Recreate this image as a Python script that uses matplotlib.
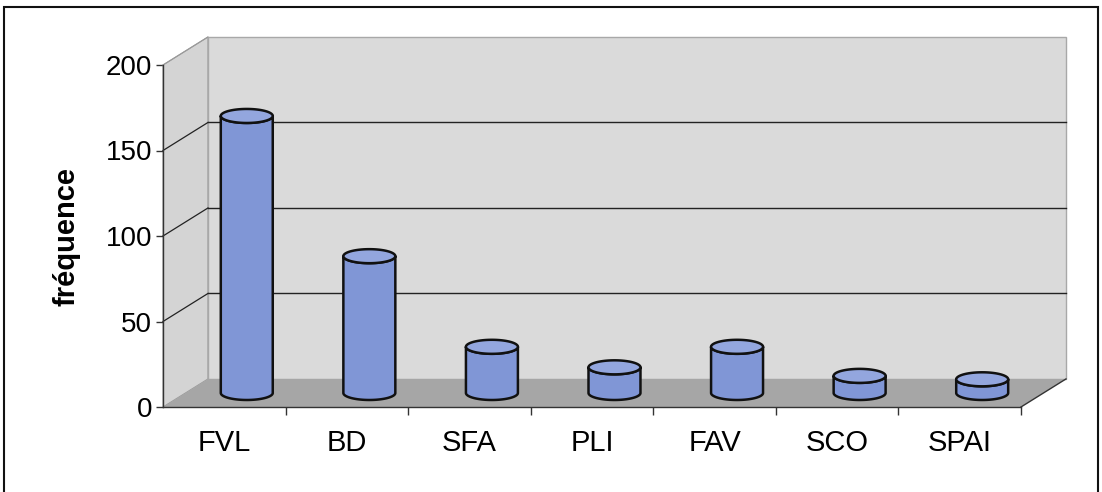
import numpy as np
import matplotlib.pyplot as plt
from matplotlib.patches import Polygon, Rectangle

plt.rcParams['font.family'] = ['Liberation Sans', 'DejaVu Sans']

categories = ['FVL', 'BD', 'SFA', 'PLI', 'FAV', 'SCO', 'SPAI']
values = [162, 80, 27, 15, 27, 10, 8]
yticks = [0, 50, 100, 150, 200]

# oblique depth of the 3D box (category units, value units)
DX, DY = 0.367, 16.4
DEPTH = 0.5          # where the cylinders sit inside the box
RX, RY = 0.212, 4.1  # cylinder radius on screen

fig = plt.figure(figsize=(11.02, 4.92), dpi=100)
ax = fig.add_axes([0, 0, 1, 1])
ax.set_xlim(-163 / 122.57, (1102 - 163) / 122.57)
ax.set_ylim(-85 / 1.71, 407 / 1.71)
ax.patch.set_visible(False)

n = len(categories)
ymax = yticks[-1]

# walls and floor
side = Polygon([(0, 0), (DX, DY), (DX, ymax + DY), (0, ymax)],
               closed=True, fc='#d4d4d4', ec='#9a9a9a', lw=0.8, zorder=1)
back = Polygon([(DX, DY), (n + DX, DY), (n + DX, ymax + DY), (DX, ymax + DY)],
               closed=True, fc='#dadada', ec='#a8a8a8', lw=1.0, zorder=1)
floor = Polygon([(0, 0), (n, 0), (n + DX, DY), (DX, DY)],
                closed=True, fc='#a6a6a6', ec='none', zorder=2)
for p in (side, back, floor):
    ax.add_patch(p)
ax.plot([n, n + DX], [0, DY], color='#333333', lw=1.0, zorder=3)

# gridlines on the back and side walls
for v in yticks[1:-1]:
    ax.plot([DX, n + DX], [v + DY, v + DY], color='#222222', lw=1.0, zorder=3)
    ax.plot([0, DX], [v, v + DY], color='#222222', lw=0.9, zorder=3)
ax.plot([0, DX], [ymax, ymax + DY], color='#9a9a9a', lw=0.8, zorder=3)

# cylinders
t = np.linspace(0, 2 * np.pi, 120)
half = np.linspace(np.pi, 2 * np.pi, 60)
for i, v in enumerate(values):
    cx = i + 0.5 + DEPTH * DX
    y0 = DEPTH * DY
    y1 = v + DEPTH * DY
    bx = cx + RX * np.cos(half)
    by = y0 + RY * np.sin(half)
    tx = (cx + RX * np.cos(half))[::-1]
    ty = (y1 + RY * np.sin(half))[::-1]
    body = np.column_stack([np.concatenate([bx, tx]), np.concatenate([by, ty])])
    ax.add_patch(Polygon(body, closed=True, fc='#8096d6', ec='#111111',
                         lw=1.8, joinstyle='round', zorder=10 + i))
    top = np.column_stack([cx + RX * np.cos(t), y1 + RY * np.sin(t)])
    ax.add_patch(Polygon(top, closed=True, fc='#93a6de', ec='#111111',
                         lw=1.8, zorder=10 + i))

# front axes
ax.spines[['top', 'right']].set_visible(False)
ax.spines['left'].set_position(('data', 0))
ax.spines['left'].set_bounds(0, ymax)
ax.spines['bottom'].set_position(('data', 0))
ax.spines['bottom'].set_bounds(0, n)
for s in ('left', 'bottom'):
    ax.spines[s].set_color('#333333')
    ax.spines[s].set_linewidth(1.0)
    ax.spines[s].set_zorder(5)

ax.set_yticks(yticks)
ax.tick_params(axis='y', direction='out', length=5, width=1, color='#333333',
               labelsize=20, pad=3)
ax.set_xticks(np.arange(n) + 0.5)
ax.set_xticklabels(categories)
ax.set_xticks(np.arange(1, n + 1), minor=True)
ax.tick_params(axis='x', which='major', length=0, labelsize=21, pad=16)
ax.tick_params(axis='x', which='minor', direction='out', length=6, width=1,
               color='#333333')

ax.text(-0.79, 100, 'fréquence', rotation=90, ha='center', va='center',
        fontsize=21, fontweight='bold')

# outer chart frame
fig.patches.append(Rectangle((4 / 1102, -0.02), 1094 / 1102, 1 - 7 / 492 + 0.02,
                             transform=fig.transFigure, fill=False,
                             ec='#111111', lw=1.5))

fig.savefig('out.png', dpi=100, facecolor='white')
